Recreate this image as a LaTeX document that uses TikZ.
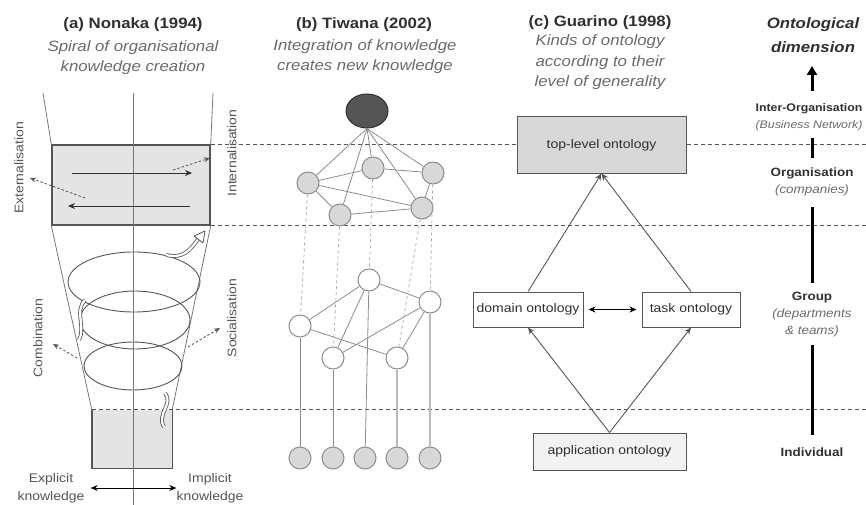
\documentclass[tikz,border=0pt]{standalone}
\usepackage{fontspec}
\setmainfont{Liberation Sans}[FakeStretch=1.12]
\usetikzlibrary{arrows.meta,shapes.geometric}
\pgfdeclarelayer{back}
\pgfsetlayers{back,main}
\definecolor{ink}{HTML}{303030}
\definecolor{soft}{HTML}{6A6A6A}
\definecolor{rule}{HTML}{555555}
\definecolor{wire}{HTML}{8C8C8C}
\definecolor{panel}{HTML}{E4E4E4}
\definecolor{knot}{HTML}{D8D8D8}
\definecolor{core}{HTML}{555555}
\tikzset{
  heading/.style={font=\fontsize{15}{17}\selectfont\bfseries, text=ink, align=center, inner sep=0},
  caption/.style={font=\fontsize{15}{20}\selectfont\itshape, text=soft, align=center, inner sep=0},
  sidelabel/.style={font=\fontsize{12.5}{14}\selectfont, text=rule, rotate=90, inner sep=0},
  bottomlabel/.style={font=\fontsize{12.5}{18}\selectfont, text=rule, align=center, inner sep=0},
  guide/.style={draw=rule, line width=0.8pt, dash pattern=on 4pt off 3pt},
  panelbox/.style={fill=panel, draw=rule, line width=1.4pt, inner sep=0},
  panelline/.style={draw=rule, line width=1.4pt},
  funnel/.style={draw=rule!80!white, line width=0.8pt},
  spiral/.style={draw=rule, line width=0.9pt},
  flow/.style={draw=ink, line width=0.9pt, -{Stealth[length=7pt,width=6pt]}},
  hint/.style={draw=rule, line width=0.8pt, dash pattern=on 2.5pt off 2pt, -{Stealth[length=6pt,width=5pt]}},
  twist/.style={draw=rule, double=white, double distance=2.2pt, line width=0.8pt},
  twisttip/.style={draw=rule, fill=white, line width=0.8pt, line join=round},
  both/.style={draw=black, line width=1pt, {Stealth[length=7pt,width=6pt]}-{Stealth[length=7pt,width=6pt]}},
  knotA/.style={circle, minimum size=22pt, inner sep=0, draw=wire, line width=1pt, fill=knot},
  knotB/.style={knotA, fill=white},
  link/.style={draw=wire, line width=0.8pt},
  tie/.style={draw=wire!80!white, line width=0.7pt, dash pattern=on 3pt off 3pt},
  onto/.style={draw=rule, line width=1pt, font=\fontsize{12.5}{14}\selectfont, text=ink, inner sep=0},
  lift/.style={draw=rule, line width=0.9pt, -{Stealth[length=7pt,width=6pt]}},
  level/.style={font=\fontsize{12}{17}\selectfont, text=ink, align=center, inner sep=0},
  axis/.style={draw=black, line width=3pt},
}
\begin{document}
\begin{tikzpicture}[x=1pt,y=-1pt]
\useasboundingbox (0,0) rectangle (866,505);
\coordinate (rim) at (866,0);

% ---------- (a) Nonaka ----------
\node[heading] (nt) at (133,25) {(a) Nonaka (1994)};
\node[caption] (ns) at (133,57.5) {Spiral of organisational\\knowledge creation};

\node[panelbox, minimum width=158pt, minimum height=80pt] (ext) at (131,185) {};
\node[fill=panel, minimum width=80pt, minimum height=58pt, inner sep=0] (low) at (132,439) {};

\begin{pgfonlayer}{back}
  \draw[guide] (ext.north east) -- (ext.north east -| rim);
  \draw[guide] (ext.south east) -- (ext.south east -| rim);
\end{pgfonlayer}

% funnel walls
\coordinate (fl) at (43,93);
\coordinate (fr) at (213,93);
\draw[funnel] (fl) -- (ext.north west);
\draw[funnel] (fr) -- (ext.north east);
\draw[funnel] (ext.south west) -- (low.north west);
\draw[funnel] (ext.south east) -- (low.north east);

% spiral rings
\draw[spiral] (134,282) ellipse [x radius=66, y radius=30];
\draw[spiral] (135,320) ellipse [x radius=55, y radius=29];
\draw[spiral] (133,366) ellipse [x radius=49, y radius=24];

% lower box, open top
\draw[panelline] (low.north west) -- (low.south west) -- (low.south east) -- (low.north east);
\draw[guide] (low.north west) -- (low.north west -| rim);

% centre axis
\coordinate (ca) at (133,93);
\coordinate (cb) at (133,505);
\draw[funnel] (ca) -- (cb);

% conversion arrows inside the box
\coordinate (r1) at (72,173);
\coordinate (r2) at (192,173);
\coordinate (l1) at (190,206);
\coordinate (l2) at (68,206);
\draw[flow] (r1) -- (r2);
\draw[flow] (l1) -- (l2);

% dashed pointers to the four modes
\coordinate (exa) at (85,198);
\coordinate (exb) at (30,178);
\coordinate (ina) at (173,170);
\coordinate (inb) at (210,158);
\coordinate (coa) at (77,358);
\coordinate (cob) at (53,344);
\coordinate (soa) at (188,347);
\coordinate (sob) at (220,328);
\draw[hint] (exa) -- (exb);
\draw[hint] (ina) -- (inb);
\draw[hint] (coa) -- (cob);
\draw[hint] (soa) -- (sob);

% twisted spiral arrows
\coordinate (ta) at (166,255);
\coordinate (tb) at (199,238);
\draw[twist] (ta) .. controls (184,259) and (190,250) .. (tb);
\draw[twisttip] (194,236) -- (205,231) -- (203,243) -- cycle;
\coordinate (tc) at (85,300);
\coordinate (td) at (79,340);
\draw[twist] (tc) .. controls (74,312) and (86,326) .. (td);
\coordinate (te) at (165,393);
\coordinate (tf) at (164,427);
\draw[twist] (te) .. controls (174,404) and (156,414) .. (tf);

\node[sidelabel] (lx) at (19,168) {Externalisation};
\node[sidelabel] (li) at (232,153) {Internalisation};
\node[sidelabel] (lc) at (38,338) {Combination};
\node[sidelabel] (ls) at (232,318) {Socialisation};

\node[bottomlabel] (expl) at (51,488) {Explicit\\knowledge};
\node[bottomlabel] (impl) at (210,488) {Implicit\\knowledge};
\draw[both, shorten <=6pt] (expl.east) -- (impl.west);

% ---------- (b) Tiwana ----------
\node[heading] (tt) at (364,25) {(b) Tiwana (2002)};
\node[caption] (ts) at (365,57) {Integration of knowledge\\creates new knowledge};

\node[ellipse, minimum width=42pt, minimum height=34pt, inner sep=0, fill=core, draw=ink, line width=1pt] (t0) at (367,111) {};

\node[knotA] (a1) at (308,183) {};
\node[knotA] (a2) at (373,168) {};
\node[knotA] (a3) at (433,173) {};
\node[knotA] (a4) at (340,215) {};
\node[knotA] (a5) at (422,208) {};

\node[knotB] (m1) at (300,326) {};
\node[knotB] (m2) at (369,280) {};
\node[knotB] (m3) at (430,302) {};
\node[knotB] (m4) at (333,358) {};
\node[knotB] (m5) at (397,358) {};

\node[knotA] (b1) at (300,458) {};
\node[knotA] (b2) at (333,458) {};
\node[knotA] (b3) at (365,458) {};
\node[knotA] (b4) at (397,458) {};
\node[knotA] (b5) at (430,458) {};

\foreach \n in {a1,a2,a3,a4,a5} \draw[link] (t0.south) -- (\n);
\draw[link] (a1) -- (a2);
\draw[link] (a2) -- (a3);
\draw[link] (a1) -- (a4);
\draw[link] (a1) -- (a5);
\draw[link] (a4) -- (a5);
\draw[link] (a3) -- (a5);

\draw[link] (m1) -- (m2);
\draw[link] (m2) -- (m3);
\draw[link] (m1) -- (m5);
\draw[link] (m2) -- (m4);
\draw[link] (m3) -- (m4);
\draw[link] (m3) -- (m5);

\draw[tie] (a1) -- (m1);
\draw[tie] (a4) -- (m4);
\draw[tie] (a2) -- (m2);
\draw[tie] (a5) -- (m5);
\draw[tie] (a3) -- (m3);

\draw[link] (m1) -- (b1);
\draw[link] (m4) -- (b2);
\draw[link] (m2) -- (b3);
\draw[link, draw=wire!60!white, line width=1.6pt] (m5) -- (b4);
\draw[link, draw=wire!60!white, line width=1.6pt] (m3) -- (b5);

% ---------- (c) Guarino ----------
\node[heading] (gt) at (600,23) {(c) Guarino (1998)};
\node[caption, font=\fontsize{15}{20.5}\selectfont\itshape] (gs) at (600,62.5) {Kinds of ontology\\according to their\\level of generality};

\node[onto, fill=knot, minimum width=169pt, minimum height=56pt] (top) at (601.5,145) {top-level ontology};
\node[onto, fill=white, minimum width=110pt, minimum height=35pt] (dom) at (528,309.5) {domain ontology};
\node[onto, fill=white, minimum width=98pt, minimum height=35pt] (task) at (691,309.5) {task ontology};
\node[onto, fill=panel!50!white, minimum width=153pt, minimum height=37pt] (app) at (609.5,451.5) {application ontology};

\draw[lift] (app.north) -- (dom.south);
\draw[lift] (app.north) -- (task.south);
\draw[lift] (dom.north) -- (top.south);
\draw[lift] (task.north) -- (top.south);
\draw[both, line width=0.9pt, shorten <=5pt, shorten >=5pt] (dom.east) -- (task.west);

% ---------- ontological dimension ----------
\node[heading, font=\fontsize{15}{24}\selectfont\bfseries\itshape] (od) at (813,35) {Ontological\\dimension};
\node[level, font=\fontsize{11}{17}\selectfont] (io) at (809,117) {\textbf{Inter-Organisation}\\\textcolor{soft}{\itshape(Business Network)}};
\node[level] (org) at (812,181.5) {\textbf{Organisation}\\\textcolor{soft}{\itshape(companies)}};
\node[level] (grp) at (812,315) {\textbf{Group}\\\textcolor{soft}{\itshape(departments}\\\textcolor{soft}{\itshape\& teams)}};
\node[level] (ind) at (812,452) {\textbf{Individual}};

\coordinate (ax0) at (812,91);
\coordinate (ax1) at (812,66);
\coordinate (ax2) at (812,138);
\coordinate (ax3) at (812,158);
\coordinate (ax4) at (812,207);
\coordinate (ax5) at (812,283);
\coordinate (ax6) at (812,345);
\coordinate (ax7) at (812,435);
\draw[axis, -{Triangle[length=9pt,width=10pt]}] (ax0) -- (ax1);
\draw[axis] (ax2) -- (ax3);
\draw[axis] (ax4) -- (ax5);
\draw[axis] (ax6) -- (ax7);
\end{tikzpicture}
\end{document}
